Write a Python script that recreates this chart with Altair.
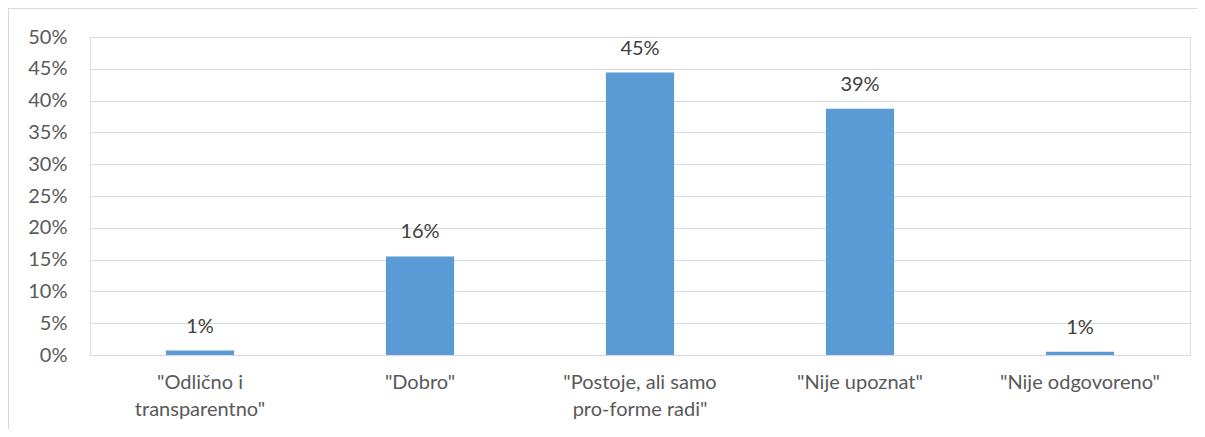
import altair as alt
import pandas as pd

categories = ["\"Odlično i\ntransparentno\"", "\"Dobro\"", "\"Postoje, ali samo\npro-forme radi\"", "\"Nije upoznat\"", "\"Nije odgovoreno\""]
values = [0.007, 0.155, 0.444, 0.387, 0.005]
labels = ["1%", "16%", "45%", "39%", "1%"]
y_ticks = [0.0, 0.05, 0.1, 0.15, 0.2, 0.25, 0.3, 0.35, 0.4, 0.45, 0.5]

df = pd.DataFrame({"cat": categories, "val": values, "lab": labels})

FONT = "Lato"
FS = 20
W, H = 1100, 318

x = alt.X("cat:N", sort=categories, title=None,
          scale=alt.Scale(paddingInner=0.69, paddingOuter=0.345),
          axis=alt.Axis(labelAngle=0, labelExpr="split(datum.label, '\\n')",
                        labelFont=FONT, labelFontSize=FS, labelColor="#595959",
                        labelLineHeight=27, labelPadding=17, ticks=False,
                        domain=False, grid=False, labelBaseline="top"))
y = alt.Y("val:Q", title=None,
          scale=alt.Scale(domain=[0, 0.5], nice=False),
          axis=alt.Axis(format=".0%", values=y_ticks, labelOverlap=False,
                        tickCount=11,
                        labelFont=FONT, labelFontSize=FS, labelColor="#595959",
                        labelPadding=23, ticks=False, domain=False,
                        grid=True, gridColor="#D9D9D9", gridWidth=1))

bars = alt.Chart(df).mark_bar(color="#5B9BD5").encode(x=x, y=y)
text = alt.Chart(df).mark_text(font=FONT, fontSize=FS, color="#404040",
                               baseline="alphabetic", dy=-18).encode(
    x=x, y=y, text="lab:N")

frame_left = alt.Chart(df).mark_rule(color="#D9D9D9", strokeWidth=1).encode(
    x=alt.value(-81.5), y=alt.value(-29), y2=alt.value(H + 100))
frame_top = alt.Chart(df).mark_rule(color="#D9D9D9", strokeWidth=1).encode(
    x=alt.value(-82), x2=alt.value(W + 7), y=alt.value(-28.5))

chart = alt.layer(bars, text, frame_left, frame_top).properties(
    width=W, height=H,
    autosize=alt.AutoSizeParams(type="none"),
    padding={"left": 82, "top": 29, "right": 7, "bottom": 74},
).configure_view(stroke=None).configure(background="white")

chart.save("out.html", embed_options={"renderer": "svg", "actions": False})
